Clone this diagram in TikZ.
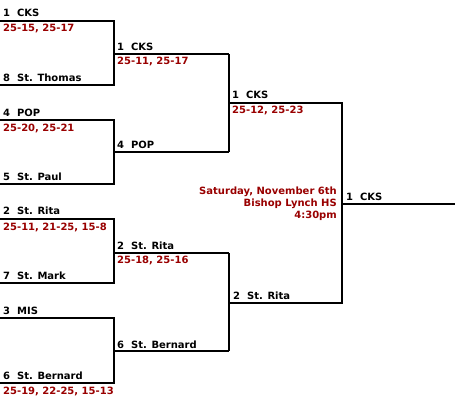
\documentclass[tikz,border=0pt]{standalone}
\usepackage{fontspec}
\setmainfont{DejaVu Sans}[BoldFont={DejaVu Sans Bold}]
\definecolor{scorered}{RGB}{153,0,0}
\tikzset{
  bline/.style={line width=2.2pt, black},
  team/.style={anchor=base west, inner sep=0pt, font=\fontsize{10}{11}\bfseries\selectfont, text=black},
  score/.style={team, text=scorered},
  info/.style={anchor=base east, inner sep=0pt, font=\fontsize{10}{11}\bfseries\selectfont, text=scorered}
}
\begin{document}
\begin{tikzpicture}[x=1pt,y=-1pt]
\useasboundingbox[fill=white] (0,0) rectangle (455,405);
% coordinates
\coordinate (a1) at (0,21);   \coordinate (a2) at (0,85);
\coordinate (b1) at (0,120);  \coordinate (b2) at (0,184);
\coordinate (c1) at (0,219);  \coordinate (c2) at (0,283);
\coordinate (d1) at (0,318);  \coordinate (d2) at (0,383);
\coordinate (r1) at (114,54);  \coordinate (r2) at (114,152);
\coordinate (r3) at (114,253); \coordinate (r4) at (114,351);
\coordinate (s1) at (229,103); \coordinate (s2) at (229,303);
\coordinate (f1) at (342,204); \coordinate (fe) at (455,204);
% round 1
\draw[bline] (a1) -| (r1 |- a2) -- (a2);
\draw[bline] (b1) -| (r2 |- b2) -- (b2);
\draw[bline] (c1) -| (r3 |- c2) -- (c2);
\draw[bline] (d1) -| (r4 |- d2) -- (d2);
\draw[bline] (r1) -- (r1 -| s1);
\draw[bline] (r2) -- (r2 -| s1);
\draw[bline] (r3) -- (r3 -| s1);
\draw[bline] (r4) -- (r4 -| s1);
% round 2
\draw[bline] (r1 -| s1) -- (r2 -| s1);
\draw[bline] (r3 -| s1) -- (r4 -| s1);
\draw[bline] (s1) -| (f1 |- s2) -- (s2);
% final
\draw[bline] (f1) -- (fe);
% labels round 1
\node[team]  (t1) at (3,16)  {1\ \ CKS};
\node[score] (p1) at (3,31)  {25-15, 25-17};
\node[team]  (t8) at (3,81)  {8\ \ St. Thomas};
\node[team]  (t4) at (3,116) {4\ \ POP};
\node[score] (p2) at (3,131) {25-20, 25-21};
\node[team]  (t5) at (3,180) {5\ \ St. Paul};
\node[team]  (t2) at (3,214) {2\ \ St. Rita};
\node[score] (p3) at (3,230) {25-11, 21-25, 15-8};
\node[team]  (t7) at (3,279) {7\ \ St. Mark};
\node[team]  (t3) at (3,314) {3\ \ MIS};
\node[team]  (t6) at (3,379) {6\ \ St. Bernard};
\node[score] (p4) at (3,394) {25-19, 22-25, 15-13};
% round 2
\node[team]  (u1) at (117,50)  {1\ \ CKS};
\node[score] (q1) at (117,64)  {25-11, 25-17};
\node[team]  (u4) at (117,148) {4\ \ POP};
\node[team]  (u2) at (117,249) {2\ \ St. Rita};
\node[score] (q2) at (117,263) {25-18, 25-16};
\node[team]  (u6) at (117,348) {6\ \ St. Bernard};
% round 3
\node[team]  (v1) at (232,98)  {1\ \ CKS};
\node[score] (w1) at (232,113) {25-12, 25-23};
\node[team]  (v2) at (233,299) {2\ \ St. Rita};
% final
\node[team]  (champ) at (346,200) {1\ \ CKS};
\node[info] (i1) at (337,194) {Saturday, November 6th};
\node[info] (i2) at (337,206) {Bishop Lynch HS};
\node[info] (i3) at (337,218) {4:30pm};
\end{tikzpicture}
\end{document}
